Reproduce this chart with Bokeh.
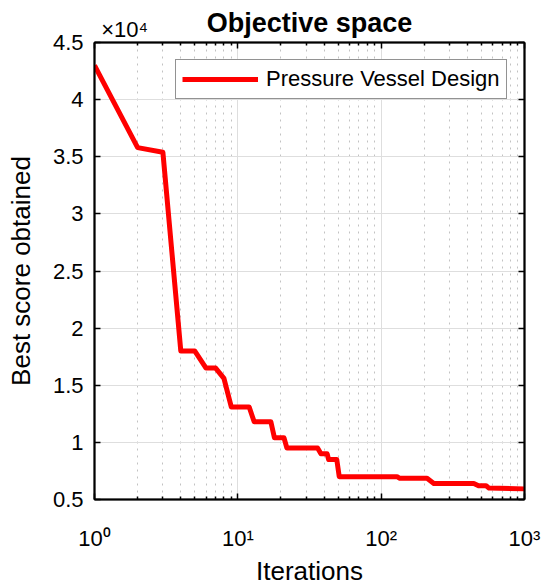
from bokeh.plotting import figure
from bokeh.models import (FixedTicker, LinearAxis, LogAxis, Legend, LegendItem, Range1d)
from bokeh.embed import file_html
from bokeh.resources import INLINE

# ---- data ----
iterations = [1, 2, 3, 4, 5, 6, 7, 8, 9, 12, 13, 17, 18, 21, 22, 36, 38, 42, 43, 49, 51,
              129, 135, 209, 233, 443, 478, 540, 565, 1000]
best_score = [43000, 35800, 35400, 18000, 18000, 16500, 16500, 15600, 13100, 13100, 11800,
              11800, 10400, 10400, 9500, 9500, 9000, 9000, 8500, 8500, 7000,
              7000, 6850, 6850, 6400, 6400, 6200, 6200, 6000, 5930]

y_ticks = [5000, 10000, 15000, 20000, 25000, 30000, 35000, 40000, 45000]
y_tick_labels = ["0.5", "1", "1.5", "2", "2.5", "3", "3.5", "4", "4.5"]
x_ticks = [1, 10, 100, 1000]
x_tick_labels = ["10\u2070", "10\u00b9", "10\u00b2", "10\u00b3"]
x_minor_ticks = [2, 3, 4, 5, 6, 7, 8, 9, 20, 30, 40, 50, 60, 70, 80, 90,
                 200, 300, 400, 500, 600, 700, 800, 900]
series_name = "Pressure Vessel Design"
title_text = "Objective space"
x_label = "Iterations"
y_label = "Best score obtained"
y_multiplier_text = "\u00d710\u2074"

FONT = "Liberation Sans"
MULT_X = 1.62   # where the x10^4 note sits along the top edge (data x)

p = figure(width=542, height=588, x_axis_type="log",
           x_range=Range1d(1, 1000), y_range=Range1d(5000, 45000),
           output_backend="svg", toolbar_location=None,
           min_border_left=94, min_border_right=18, min_border_top=42, min_border_bottom=85)
p.background_fill_color = "white"
p.border_fill_color = "white"
p.outline_line_color = "black"
p.outline_line_width = 1.5

p.title.text = title_text
p.title.text_font = FONT
p.title.text_font_size = "27px"
p.title.text_font_style = "bold"
p.title.text_color = "black"
p.title.align = "center"
p.title.standoff = -49

# grid
p.xgrid.grid_line_color = "#dedede"
p.xgrid.grid_line_width = 1
p.xgrid.minor_grid_line_color = "#c2c2c2"
p.xgrid.minor_grid_line_dash = "2 5"
p.xgrid.minor_grid_line_width = 1
p.ygrid.grid_line_color = "#dedede"
p.ygrid.grid_line_width = 1

xt = FixedTicker(ticks=x_ticks, minor_ticks=x_minor_ticks)
yt = FixedTicker(ticks=y_ticks)

def style_axis(ax, hide_labels):
    ax.axis_line_color = "black"
    ax.axis_line_width = 2
    ax.major_tick_line_color = "black"
    ax.major_tick_line_width = 1.5
    ax.major_tick_in = 6
    ax.major_tick_out = 0
    ax.minor_tick_line_color = "black"
    ax.minor_tick_line_width = 1.5
    ax.minor_tick_in = 3
    ax.minor_tick_out = 0
    ax.major_label_text_font = FONT
    ax.major_label_text_color = "black"
    if hide_labels:
        ax.major_label_text_font_size = "1px"
        ax.major_label_text_alpha = 0
        ax.major_label_standoff = 0
        ax.axis_label_standoff = 0

xa = p.xaxis[0]
xa.ticker = xt
style_axis(xa, False)
xa.major_label_overrides = {t: s for t, s in zip(x_ticks, x_tick_labels)}
xa.major_label_text_font_size = "22px"
xa.major_label_standoff = 26
xa.axis_label = x_label
xa.axis_label_text_font = FONT
xa.axis_label_text_font_size = "26px"
xa.axis_label_text_font_style = "normal"
xa.axis_label_text_color = "black"
xa.axis_label_standoff = 2

ya = p.yaxis[0]
ya.ticker = yt
style_axis(ya, False)
ya.major_label_overrides = {t: s for t, s in zip(y_ticks, y_tick_labels)}
ya.major_label_text_font_size = "22px"
ya.major_label_standoff = 11
ya.axis_label = y_label
ya.axis_label_text_font = FONT
ya.axis_label_text_font_size = "26px"
ya.axis_label_text_font_style = "normal"
ya.axis_label_text_color = "black"
ya.axis_label_standoff = 14

ra = LinearAxis(ticker=yt)
style_axis(ra, True)
p.add_layout(ra, "right")
ta = LogAxis(ticker=xt)
style_axis(ta, True)
p.add_layout(ta, "above")

# the x10^4 exponent note above the top-left corner
ma = LogAxis(ticker=FixedTicker(ticks=[MULT_X]))
ma.axis_line_color = None
ma.major_tick_line_color = None
ma.minor_tick_line_color = None
ma.major_tick_in = 0
ma.major_tick_out = 0
ma.major_label_overrides = {MULT_X: y_multiplier_text}
ma.major_label_text_font = FONT
ma.major_label_text_font_size = "22px"
ma.major_label_text_color = "black"
ma.major_label_standoff = 1
p.add_layout(ma, "above")

r = p.line(iterations, best_score, line_color="#ff0000", line_width=5, line_join="round")

legend = Legend(items=[LegendItem(label=series_name, renderers=[r])], location=(81, 400))
legend.label_text_font = FONT
legend.label_text_font_size = "22px"
legend.label_text_color = "black"
legend.glyph_width = 76
legend.glyph_height = 20
legend.label_standoff = 8
legend.padding = 6
legend.margin = 0
legend.border_line_color = "#262626"
legend.border_line_width = 1
legend.background_fill_color = "white"
legend.background_fill_alpha = 1
p.add_layout(legend)

open("out.html", "w").write(file_html(p, INLINE))
